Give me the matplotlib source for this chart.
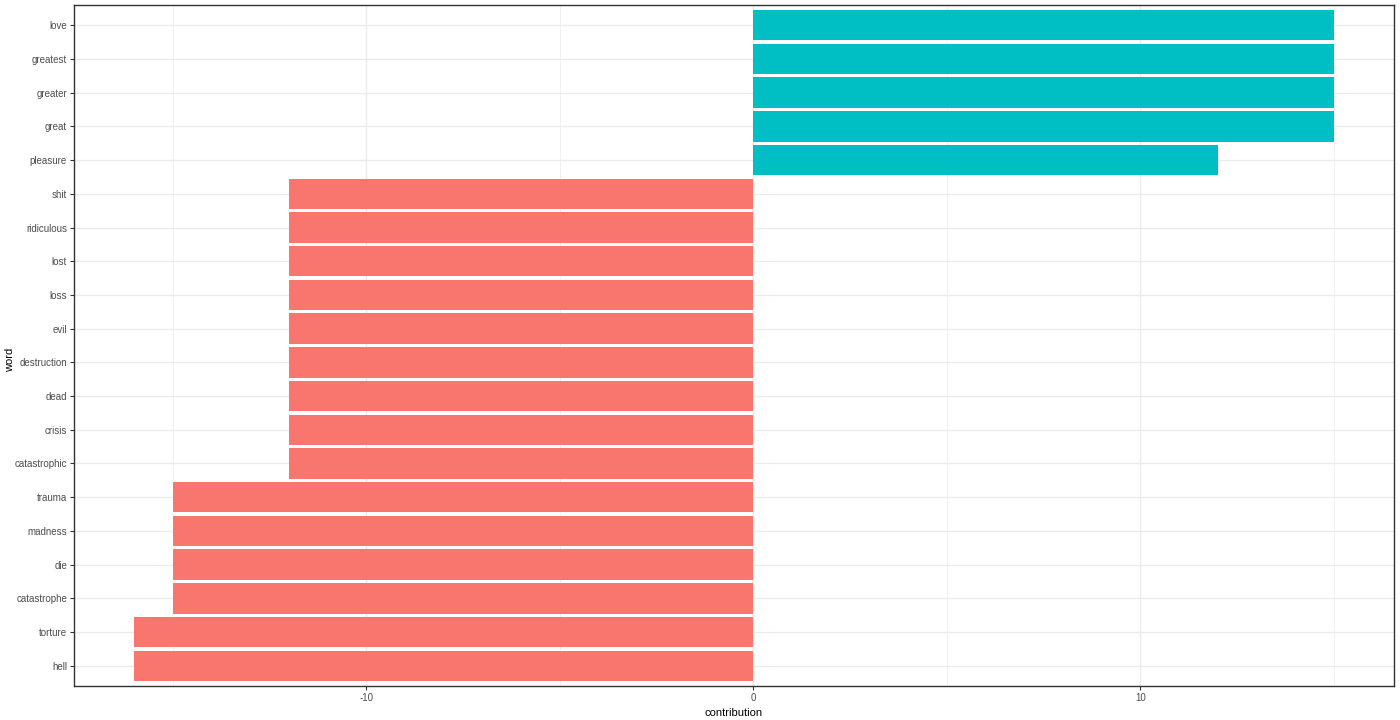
import matplotlib.pyplot as plt

plt.rcParams['font.family'] = ['Liberation Sans', 'DejaVu Sans']

words = ['hell', 'torture', 'catastrophe', 'die', 'madness', 'trauma',
         'catastrophic', 'crisis', 'dead', 'destruction', 'evil', 'loss',
         'lost', 'ridiculous', 'shit', 'pleasure', 'great', 'greater',
         'greatest', 'love']
contribution = [-16, -16, -15, -15, -15, -15, -12, -12, -12, -12, -12, -12,
                -12, -12, -12, 12, 15, 15, 15, 15]

neg_color = '#F8766D'
pos_color = '#00BFC4'

fig = plt.figure(figsize=(14, 7.2), dpi=100)
ax = fig.add_axes([74 / 1400, 34 / 720, 1320 / 1400, 681 / 720])

colors = [pos_color if c > 0 else neg_color for c in contribution]
ax.barh(range(len(words)), contribution, height=0.9, color=colors, zorder=2)

ax.set_xlim(-17.55, 16.55)
ax.set_ylim(-0.6, len(words) - 0.4)
ax.set_xticks([-10, 0, 10])
ax.set_xticklabels(['-10', '0', '10'])
ax.set_xticks([-15, -5, 5, 15], minor=True)
ax.set_yticks(range(len(words)))
ax.set_yticklabels(words)

ax.grid(which='major', color='#EBEBEB', linewidth=1.0, zorder=0)
ax.grid(which='minor', axis='x', color='#EBEBEB', linewidth=0.5, zorder=0)
ax.set_axisbelow(True)
ax.tick_params(axis='both', which='major', labelsize=7, colors='#333333',
               labelcolor='#4D4D4D', length=3, width=0.8, pad=2)
ax.tick_params(axis='x', which='minor', length=0)
for s in ax.spines.values():
    s.set_color('#333333')
    s.set_linewidth(1.0)

ax.set_xlabel('contribution', fontsize=8, labelpad=4)
fig.text(10 / 1400, 0.5, 'word', fontsize=8, rotation=90,
         ha='center', va='center')

plt.savefig('out.png', dpi=100)
